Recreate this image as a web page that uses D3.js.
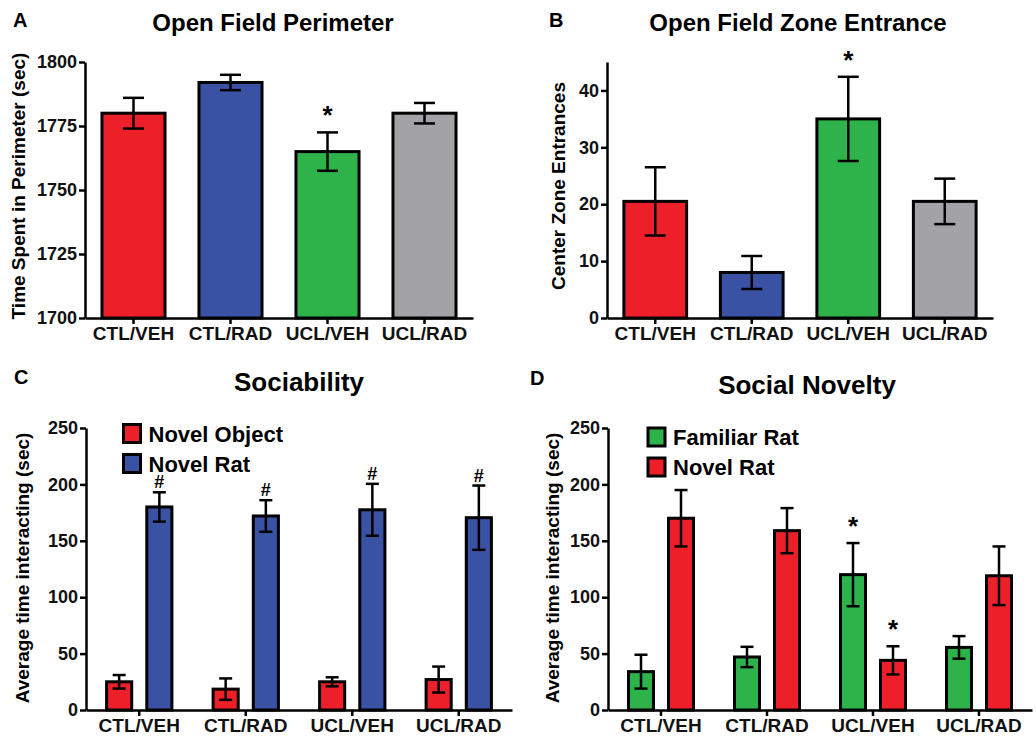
<!DOCTYPE html>
<html>
<head>
<meta charset="utf-8">
<script src="https://cdn.jsdelivr.net/npm/d3@7"></script>
<style>
  body { margin: 0; background: #fff; }
  svg { display: block; font-family: "Liberation Sans", Arial, sans-serif; font-weight: bold; }
</style>
</head>
<body>
<div id="chart"></div>
<script>
// groups shared by every panel
var groups = ["CTL/VEH", "CTL/RAD", "UCL/VEH", "UCL/RAD"];

// A: open field perimeter
var perimMean = [1780, 1792, 1765, 1780];
var perimErr = [6, 3, 7.5, 4];
var perimMarks = ["", "", "*", ""];
var perimTicks = [1700, 1725, 1750, 1775, 1800];

// B: zone entrances
var zoneMean = [20.5, 8, 35, 20.5];
var zoneErr = [6, 2.9, 7.4, 4];
var zoneMarks = ["", "", "*", ""];
var zoneTicks = [0, 10, 20, 30, 40];

// C: sociability
var sociSeries = ["Novel Object", "Novel Rat"];
var sociObject = [25, 18.5, 25, 27];
var sociObjectErr = [6, 9.5, 4, 11.5];
var sociRat = [180, 172, 177.5, 170.5];
var sociRatErr = [13, 14, 23, 28.5];
var sociObjectMarks = ["", "", "", ""];
var sociRatMarks = ["#", "#", "#", "#"];

// D: social novelty
var novSeries = ["Familiar Rat", "Novel Rat"];
var novFamiliar = [34, 47, 120, 55.5];
var novFamiliarErr = [15, 9, 28, 10];
var novNovel = [170, 159, 44, 119];
var novNovelErr = [25, 20, 12.5, 26];
var novFamiliarMarks = ["", "", "*", ""];
var novNovelMarks = ["", "", "*", ""];

var socialTicks = [0, 50, 100, 150, 200, 250];

var RED = "#ed2029", BLUE = "#3a52a4", GREEN = "#2eb34b", GRAY = "#a3a2a6";

var svg = d3.select("#chart").append("svg")
    .attr("width", 1036)
    .attr("height", 737);

/* axes, title, panel letter, y label */
function frame(p, x, y) {
  var g = svg.append("g");

  g.append("g")
    .attr("class", "yaxis")
    .attr("transform", "translate(" + x.range()[0] + ",0)")
    .call(d3.axisLeft(y).tickValues(p.ticks).tickFormat(d3.format("d"))
      .tickSize(6).tickPadding(2).tickSizeOuter(0));

  g.append("g")
    .attr("class", "xaxis")
    .attr("transform", "translate(0," + y.range()[0] + ")")
    .call(d3.axisBottom(x).tickSize(6).tickPadding(3).tickSizeOuter(0));

  g.selectAll(".domain").attr("stroke", "#000").attr("stroke-width", 2.5);
  g.selectAll(".tick line").attr("stroke", "#000").attr("stroke-width", 2.5);
  g.selectAll(".yaxis text").style("font-size", "18px").attr("fill", "#111");
  g.selectAll(".xaxis text").style("font-size", "19px").attr("fill", "#111");

  g.append("text")
    .attr("x", p.titleX).attr("y", p.titleY)
    .attr("text-anchor", "middle")
    .style("font-size", p.titleSize + "px")
    .text(p.title);

  g.append("text")
    .attr("x", p.letterX).attr("y", p.letterY)
    .style("font-size", "20px")
    .text(p.letter);

  g.append("text")
    .attr("transform", "translate(" + p.labelX + "," + p.labelY + ") rotate(-90)")
    .attr("text-anchor", "middle")
    .style("font-size", p.labelSize + "px")
    .text(p.label);

  return g;
}

function errorBar(g, cx, y, mean, err, cap) {
  g.append("line")
    .attr("x1", cx).attr("x2", cx)
    .attr("y1", y(mean - err)).attr("y2", y(mean + err));
  [mean - err, mean + err].forEach(function(v) {
    g.append("line")
      .attr("x1", cx - cap).attr("x2", cx + cap)
      .attr("y1", y(v)).attr("y2", y(v));
  });
}

/* one bar per group */
function simplePanel(p) {
  var x = d3.scaleBand().domain(groups).range(p.xr).paddingInner(0.35).paddingOuter(0.175);
  var y = d3.scaleLinear().domain(p.domain).range(p.yr);
  var g = frame(p, x, y);

  var bars = g.append("g");
  bars.selectAll("rect")
    .data(p.mean)
    .enter().append("rect")
    .attr("x", function(d, i) { return x(groups[i]); })
    .attr("width", x.bandwidth())
    .attr("y", function(d) { return y(d); })
    .attr("height", function(d) { return y(p.domain[0]) - y(d); })
    .attr("fill", function(d, i) { return p.colors[i]; })
    .attr("stroke", "#000")
    .attr("stroke-width", 3);

  var eb = g.append("g").attr("stroke", "#000").attr("stroke-width", 2.5);
  p.mean.forEach(function(d, i) {
    var cx = x(groups[i]) + x.bandwidth() / 2;
    errorBar(eb, cx, y, d, p.err[i], 10.5);
    if (p.marks[i]) {
      g.append("text")
        .attr("x", cx).attr("y", y(d + p.err[i]) - 8)
        .attr("text-anchor", "middle")
        .style("font-size", "26px")
        .text(p.marks[i]);
    }
  });
}

/* two bars per group with legend */
function groupedPanel(p) {
  var x = d3.scaleBand().domain(groups).range(p.xr);
  var inner = d3.scaleBand().domain(p.series).range([0, x.bandwidth()])
    .paddingInner(0.375).paddingOuter(0.5125);
  var y = d3.scaleLinear().domain([0, 250]).range(p.yr);
  var g = frame(p, x, y);

  p.series.forEach(function(s, k) {
    var vals = p.values[k], errs = p.errs[k], marks = p.marks[k];
    g.append("g").selectAll("rect")
      .data(vals)
      .enter().append("rect")
      .attr("x", function(d, i) { return x(groups[i]) + inner(s); })
      .attr("width", inner.bandwidth())
      .attr("y", function(d) { return y(d); })
      .attr("height", function(d) { return y(0) - y(d); })
      .attr("fill", p.colors[k])
      .attr("stroke", "#000")
      .attr("stroke-width", 3);

    var eb = g.append("g").attr("stroke", "#000").attr("stroke-width", 2.5);
    vals.forEach(function(d, i) {
      var cx = x(groups[i]) + inner(s) + inner.bandwidth() / 2;
      errorBar(eb, cx, y, d, errs[i], 6.5);
      if (marks[i]) {
        var star = marks[i] === "*";
        g.append("text")
          .attr("x", cx).attr("y", y(d + errs[i]) - (star ? 8 : 4))
          .attr("text-anchor", "middle")
          .style("font-size", star ? "26px" : "18px")
          .text(marks[i]);
      }
    });
  });

  var leg = g.append("g");
  p.series.forEach(function(s, k) {
    var ly = p.legendY + k * 30;
    leg.append("rect")
      .attr("x", p.legendX).attr("y", ly)
      .attr("width", 17).attr("height", 18)
      .attr("fill", p.colors[k])
      .attr("stroke", "#000")
      .attr("stroke-width", 3);
    leg.append("text")
      .attr("x", p.legendX + 25).attr("y", ly + 17)
      .style("font-size", "22px")
      .text(s);
  });
}

simplePanel({
  mean: perimMean, err: perimErr, marks: perimMarks, ticks: perimTicks,
  domain: [1700, 1800], xr: [85, 473], yr: [318, 62],
  colors: [RED, BLUE, GREEN, GRAY],
  title: "Open Field Perimeter", titleX: 273, titleY: 31, titleSize: 24,
  letter: "A", letterX: 13, letterY: 27,
  label: "Time Spent in Perimeter (sec)", labelX: 25, labelY: 186, labelSize: 19
});

simplePanel({
  mean: zoneMean, err: zoneErr, marks: zoneMarks, ticks: zoneTicks,
  domain: [0, 45], xr: [607, 993], yr: [318, 62],
  colors: [RED, BLUE, GREEN, GRAY],
  title: "Open Field Zone Entrance", titleX: 798, titleY: 31, titleSize: 24,
  letter: "B", letterX: 549, letterY: 27,
  label: "Center Zone Entrances", labelX: 565, labelY: 186, labelSize: 19
});

groupedPanel({
  series: sociSeries,
  values: [sociObject, sociRat], errs: [sociObjectErr, sociRatErr],
  marks: [sociObjectMarks, sociRatMarks],
  ticks: socialTicks, xr: [86, 512], yr: [710, 428],
  colors: [RED, BLUE],
  legendX: 123.5, legendY: 424.5,
  title: "Sociability", titleX: 299, titleY: 391, titleSize: 26,
  letter: "C", letterX: 14, letterY: 384,
  label: "Average time interacting (sec)", labelX: 29, labelY: 568, labelSize: 19
});

groupedPanel({
  series: novSeries,
  values: [novFamiliar, novNovel], errs: [novFamiliarErr, novNovelErr],
  marks: [novFamiliarMarks, novNovelMarks],
  ticks: socialTicks, xr: [608, 1032], yr: [710, 428],
  colors: [GREEN, RED],
  legendX: 648, legendY: 428,
  title: "Social Novelty", titleX: 807, titleY: 394, titleSize: 26,
  letter: "D", letterX: 530, letterY: 385,
  label: "Average time interacting (sec)", labelX: 559, labelY: 568, labelSize: 19
});
</script>
</body>
</html>
